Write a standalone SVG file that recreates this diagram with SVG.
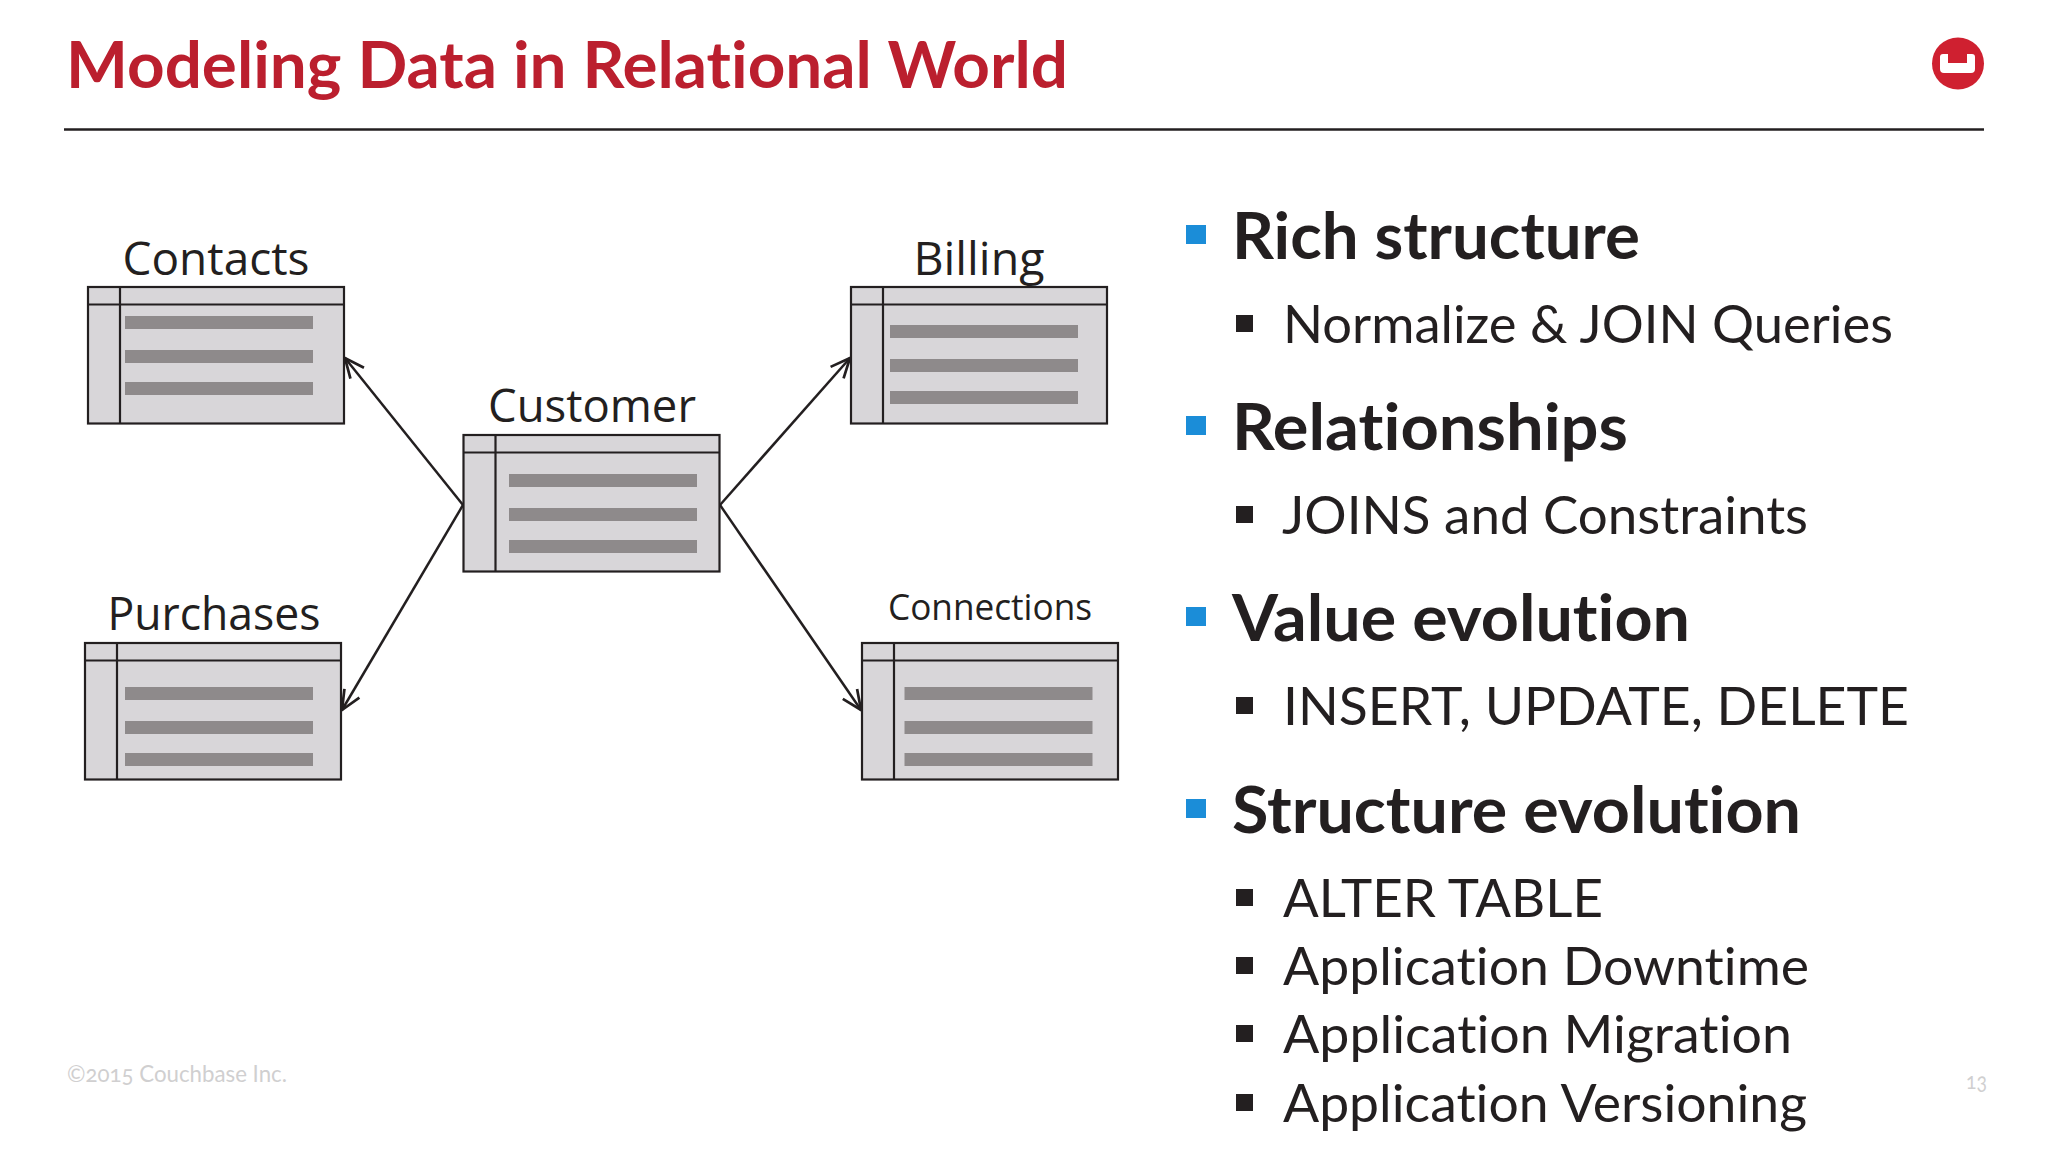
<svg xmlns="http://www.w3.org/2000/svg" width="2048" height="1152" viewBox="0 0 2048 1152">
<style>
text{font-family:"Lato","Open Sans",sans-serif;fill:#231f20;font-variant-ligatures:none}
.t{fill:#d8d6d9;stroke:#231f20;stroke-width:2.2}
.l{stroke:#231f20;stroke-width:2.2;fill:none}
.b{fill:#8e8a8b}
.n{font-family:"Open Sans","Lato",sans-serif;font-size:46px;text-anchor:middle}
.h{font-size:65px;font-weight:700}
.s{font-size:53px}
.bu{fill:#1b8dd8}
.sb{fill:#231f20}
.c{stroke:#231f20;stroke-width:2.5;fill:none;marker-end:url(#a)}
.f{font-size:23px;fill:#d0cfd0;font-variant-numeric:oldstyle-nums}
</style>
<defs>
<marker id="a" markerUnits="userSpaceOnUse" markerWidth="26" markerHeight="26" refX="20" refY="10" orient="auto" viewBox="0 0 24 20"><path d="M2 2L20 10L2 18" fill="none" stroke="#231f20" stroke-width="2.5"/></marker>
<g id="tbl"><rect class="t" x="0" y="0" width="256" height="136.500"/><path class="l" d="M0 17.500H256M32 0V136.500"/></g>
</defs>
<rect width="2048" height="1152" fill="#fff"/>
<text id="title" x="66" y="88" textLength="1002" lengthAdjust="spacingAndGlyphs" style="font-size:65.500px;font-weight:700;fill:#bb1f2e">Modeling Data in Relational World</text>
<path d="M64 129.500H1984" stroke="#231f20" stroke-width="2.500"/>
<g id="logo"><circle cx="1958" cy="63.500" r="26" fill="#cf2030"/><path d="M1940 57a3 3 0 0 1 3-3h5v9h19v-9h5a3 3 0 0 1 3 3v12a4 4 0 0 1-4 4h-27a4 4 0 0 1-4-4z" fill="#fff"/></g>
<g id="connectors">
<path class="c" d="M463 505L345 358"/>
<path class="c" d="M463 505L342 710"/>
<path class="c" d="M720 505L850 358"/>
<path class="c" d="M720 505L861 710"/>
</g>
<g id="contacts"><use href="#tbl" x="88" y="287"/><rect class="b" x="125" y="316" width="188" height="13"/><rect class="b" x="125" y="350" width="188" height="13"/><rect class="b" x="125" y="382" width="188" height="13"/><text class="n" x="216" y="275" textLength="187" lengthAdjust="spacingAndGlyphs">Contacts</text></g>
<g id="billing"><use href="#tbl" x="851" y="287"/><rect class="b" x="890" y="325" width="188" height="13"/><rect class="b" x="890" y="359" width="188" height="13"/><rect class="b" x="890" y="391" width="188" height="13"/><text class="n" x="979" y="275" textLength="131" lengthAdjust="spacingAndGlyphs">Billing</text></g>
<g id="customer"><use href="#tbl" x="463.500" y="435"/><rect class="b" x="509" y="474" width="188" height="13"/><rect class="b" x="509" y="508" width="188" height="13"/><rect class="b" x="509" y="540" width="188" height="13"/><text class="n" x="592" y="422" textLength="208" lengthAdjust="spacingAndGlyphs">Customer</text></g>
<g id="purchases"><use href="#tbl" x="85" y="643"/><rect class="b" x="125" y="687" width="188" height="13"/><rect class="b" x="125" y="721" width="188" height="13"/><rect class="b" x="125" y="753" width="188" height="13"/><text class="n" x="214" y="630" textLength="213" lengthAdjust="spacingAndGlyphs">Purchases</text></g>
<g id="connections"><use href="#tbl" x="862" y="643"/><rect class="b" x="904.500" y="687" width="188" height="13"/><rect class="b" x="904.500" y="721" width="188" height="13"/><rect class="b" x="904.500" y="753" width="188" height="13"/><text class="n" x="990" y="620" textLength="204" lengthAdjust="spacingAndGlyphs" style="font-size:36px">Connections</text></g>
<g id="bullets">
<rect class="bu" x="1186" y="225" width="20" height="19"/><text class="h" x="1232" y="259" textLength="408" lengthAdjust="spacingAndGlyphs">Rich structure</text>
<rect class="sb" x="1236" y="315" width="17" height="17"/><text class="s" x="1283" y="343" textLength="610" lengthAdjust="spacingAndGlyphs">Normalize &amp; JOIN Queries</text>
<rect class="bu" x="1186" y="416" width="20" height="19"/><text class="h" x="1232" y="450" textLength="396" lengthAdjust="spacingAndGlyphs">Relationships</text>
<rect class="sb" x="1236" y="506" width="17" height="17"/><text class="s" x="1282" y="534" textLength="526" lengthAdjust="spacingAndGlyphs">JOINS and Constraints</text>
<rect class="bu" x="1186" y="607" width="20" height="19"/><text class="h" x="1232" y="641" textLength="458" lengthAdjust="spacingAndGlyphs">Value evolution</text>
<rect class="sb" x="1236" y="697" width="17" height="17"/><text class="s" x="1283" y="725" textLength="626" lengthAdjust="spacingAndGlyphs">INSERT, UPDATE, DELETE</text>
<rect class="bu" x="1186" y="799" width="20" height="19"/><text class="h" x="1232" y="833" textLength="569" lengthAdjust="spacingAndGlyphs">Structure evolution</text>
<rect class="sb" x="1236" y="889" width="17" height="17"/><text class="s" x="1283" y="917" textLength="320" lengthAdjust="spacingAndGlyphs">ALTER TABLE</text>
<rect class="sb" x="1236" y="957" width="17" height="17"/><text class="s" x="1283" y="985" textLength="526" lengthAdjust="spacingAndGlyphs">Application Downtime</text>
<rect class="sb" x="1236" y="1025" width="17" height="17"/><text class="s" x="1283" y="1053" textLength="509" lengthAdjust="spacingAndGlyphs">Application Migration</text>
<rect class="sb" x="1236" y="1094" width="17" height="17"/><text class="s" x="1283" y="1122" textLength="524" lengthAdjust="spacingAndGlyphs">Application Versioning</text>
</g>
<text class="f" x="67" y="1082" textLength="220" lengthAdjust="spacingAndGlyphs">©2015 Couchbase Inc.</text>
<text class="f" x="1966" y="1089" textLength="21" lengthAdjust="spacingAndGlyphs">13</text>
</svg>
